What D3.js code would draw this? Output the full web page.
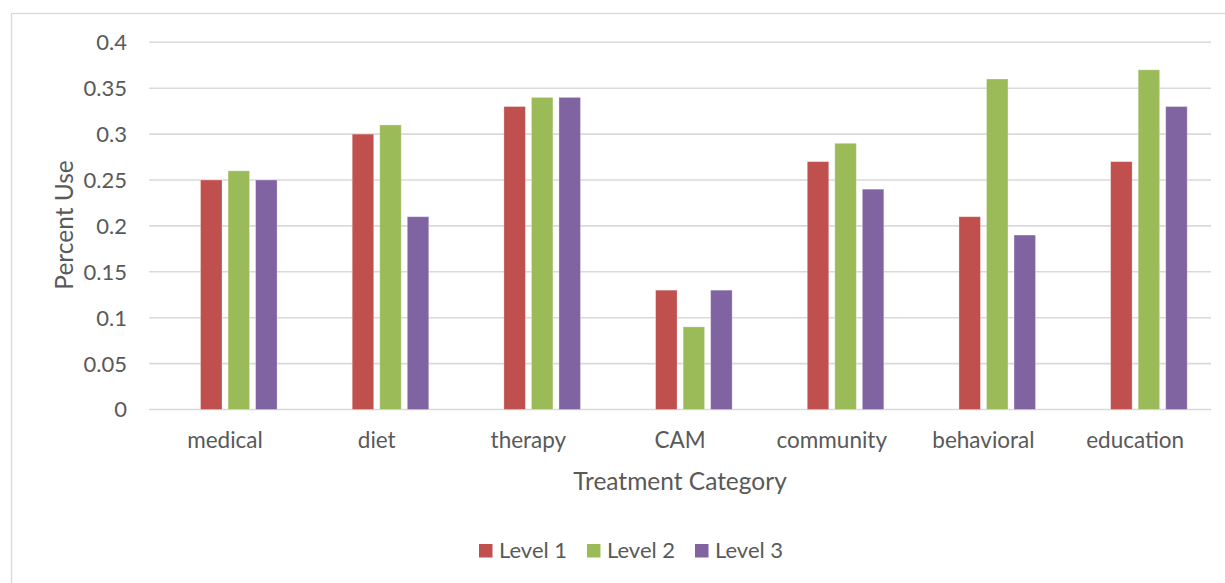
<!DOCTYPE html>
<html>
<head>
<meta charset="utf-8">
<script src="https://cdn.jsdelivr.net/npm/d3@7"></script>
<style>
  html, body { margin: 0; padding: 0; background: #fff; }
  svg { display: block; font-family: Lato, "Open Sans", sans-serif; }
</style>
</head>
<body>
<svg id="chart" width="1225" height="583"></svg>
<script>
// Treatment categories along the x axis
const categories = ["medical", "diet", "therapy", "CAM", "community", "behavioral", "education"];
// Series names and colours
const seriesNames = ["Level 1", "Level 2", "Level 3"];
const seriesColors = ["#c0504d", "#9bbb59", "#8064a2"];
// Percent use per category, one array per level
const level1 = [0.25, 0.30, 0.33, 0.13, 0.27, 0.21, 0.27];
const level2 = [0.26, 0.31, 0.34, 0.09, 0.29, 0.36, 0.37];
const level3 = [0.25, 0.21, 0.34, 0.13, 0.24, 0.19, 0.33];
// Y axis tick values and labels
const yTicks = [0, 0.05, 0.1, 0.15, 0.2, 0.25, 0.3, 0.35, 0.4];
const yTickLabels = ["0", "0.05", "0.1", "0.15", "0.2", "0.25", "0.3", "0.35", "0.4"];

const seriesValues = [level1, level2, level3];
const rows = categories.map((c, i) => ({ category: c, values: seriesValues.map(s => s[i]) }));

const textColor = "#595959";
const gridColor = "#d9d9d9";

const svg = d3.select("#chart");

// Outer chart frame
svg.append("rect")
  .attr("x", 11.5).attr("y", 13.5)
  .attr("width", 1230).attr("height", 600)
  .attr("fill", "none").attr("stroke", gridColor).attr("stroke-width", 1.3);

const plot = { left: 149.2, right: 1211, top: 42.3, bottom: 409.5 };

const x = d3.scaleBand().domain(categories).range([plot.left, plot.right]);
const y = d3.scaleLinear().domain([0, 0.4]).range([plot.bottom, plot.top]);

// Four slots inside each category band; the leading slot stays empty
const slots = ["", ...seriesNames];
const slotPitch = x.bandwidth() * 0.1815;
const barWidth = slotPitch * 0.78;
const xSlot = d3.scaleBand()
  .domain(slots)
  .range([x.bandwidth() / 2 - slotPitch * 2, x.bandwidth() / 2 + slotPitch * 2]);

// Gridlines
svg.append("g")
  .selectAll("line")
  .data(yTicks)
  .join("line")
  .attr("x1", plot.left).attr("x2", plot.right)
  .attr("y1", d => y(d)).attr("y2", d => y(d))
  .attr("stroke", gridColor).attr("stroke-width", 1.6);

// Y tick labels
svg.append("g")
  .selectAll("text")
  .data(yTicks)
  .join("text")
  .attr("x", 127)
  .attr("y", d => y(d))
  .attr("dy", "0.36em")
  .attr("text-anchor", "end")
  .attr("fill", textColor)
  .attr("font-size", 22)
  .text((d, i) => yTickLabels[i]);

// Bars
const groups = svg.append("g")
  .selectAll("g")
  .data(rows)
  .join("g")
  .attr("transform", d => `translate(${x(d.category)},0)`);

groups.selectAll("rect")
  .data(d => d.values.map((v, i) => ({ series: seriesNames[i], value: v, color: seriesColors[i] })))
  .join("rect")
  .attr("x", d => xSlot(d.series) + (xSlot.step() - barWidth) / 2)
  .attr("width", barWidth)
  .attr("y", d => y(d.value))
  .attr("height", d => y(0) - y(d.value))
  .attr("fill", d => d.color)
  .attr("stroke", "#ffffff")
  .attr("stroke-opacity", 0.35)
  .attr("stroke-width", 0.8);

// Category labels
svg.append("g")
  .selectAll("text")
  .data(categories)
  .join("text")
  .attr("x", d => x(d) + x.bandwidth() / 2)
  .attr("y", 448)
  .attr("text-anchor", "middle")
  .attr("fill", textColor)
  .attr("font-size", 22.5)
  .text(d => d);

// Axis titles
svg.append("text")
  .attr("x", 680).attr("y", 490)
  .attr("text-anchor", "middle")
  .attr("fill", textColor)
  .attr("font-size", 24.5)
  .text("Treatment Category");

svg.append("text")
  .attr("transform", "translate(73,225) rotate(-90)")
  .attr("text-anchor", "middle")
  .attr("fill", textColor)
  .attr("font-size", 24.5)
  .text("Percent Use");

// Legend
const legend = svg.append("g")
  .selectAll("g")
  .data(seriesNames)
  .join("g")
  .attr("transform", (d, i) => `translate(${479 + i * 108},544)`);

legend.append("rect")
  .attr("width", 13.5).attr("height", 13.5)
  .attr("fill", (d, i) => seriesColors[i]);

legend.append("text")
  .attr("x", 20).attr("y", 13.5)
  .attr("fill", textColor)
  .attr("font-size", 22)
  .text(d => d);
</script>
</body>
</html>
